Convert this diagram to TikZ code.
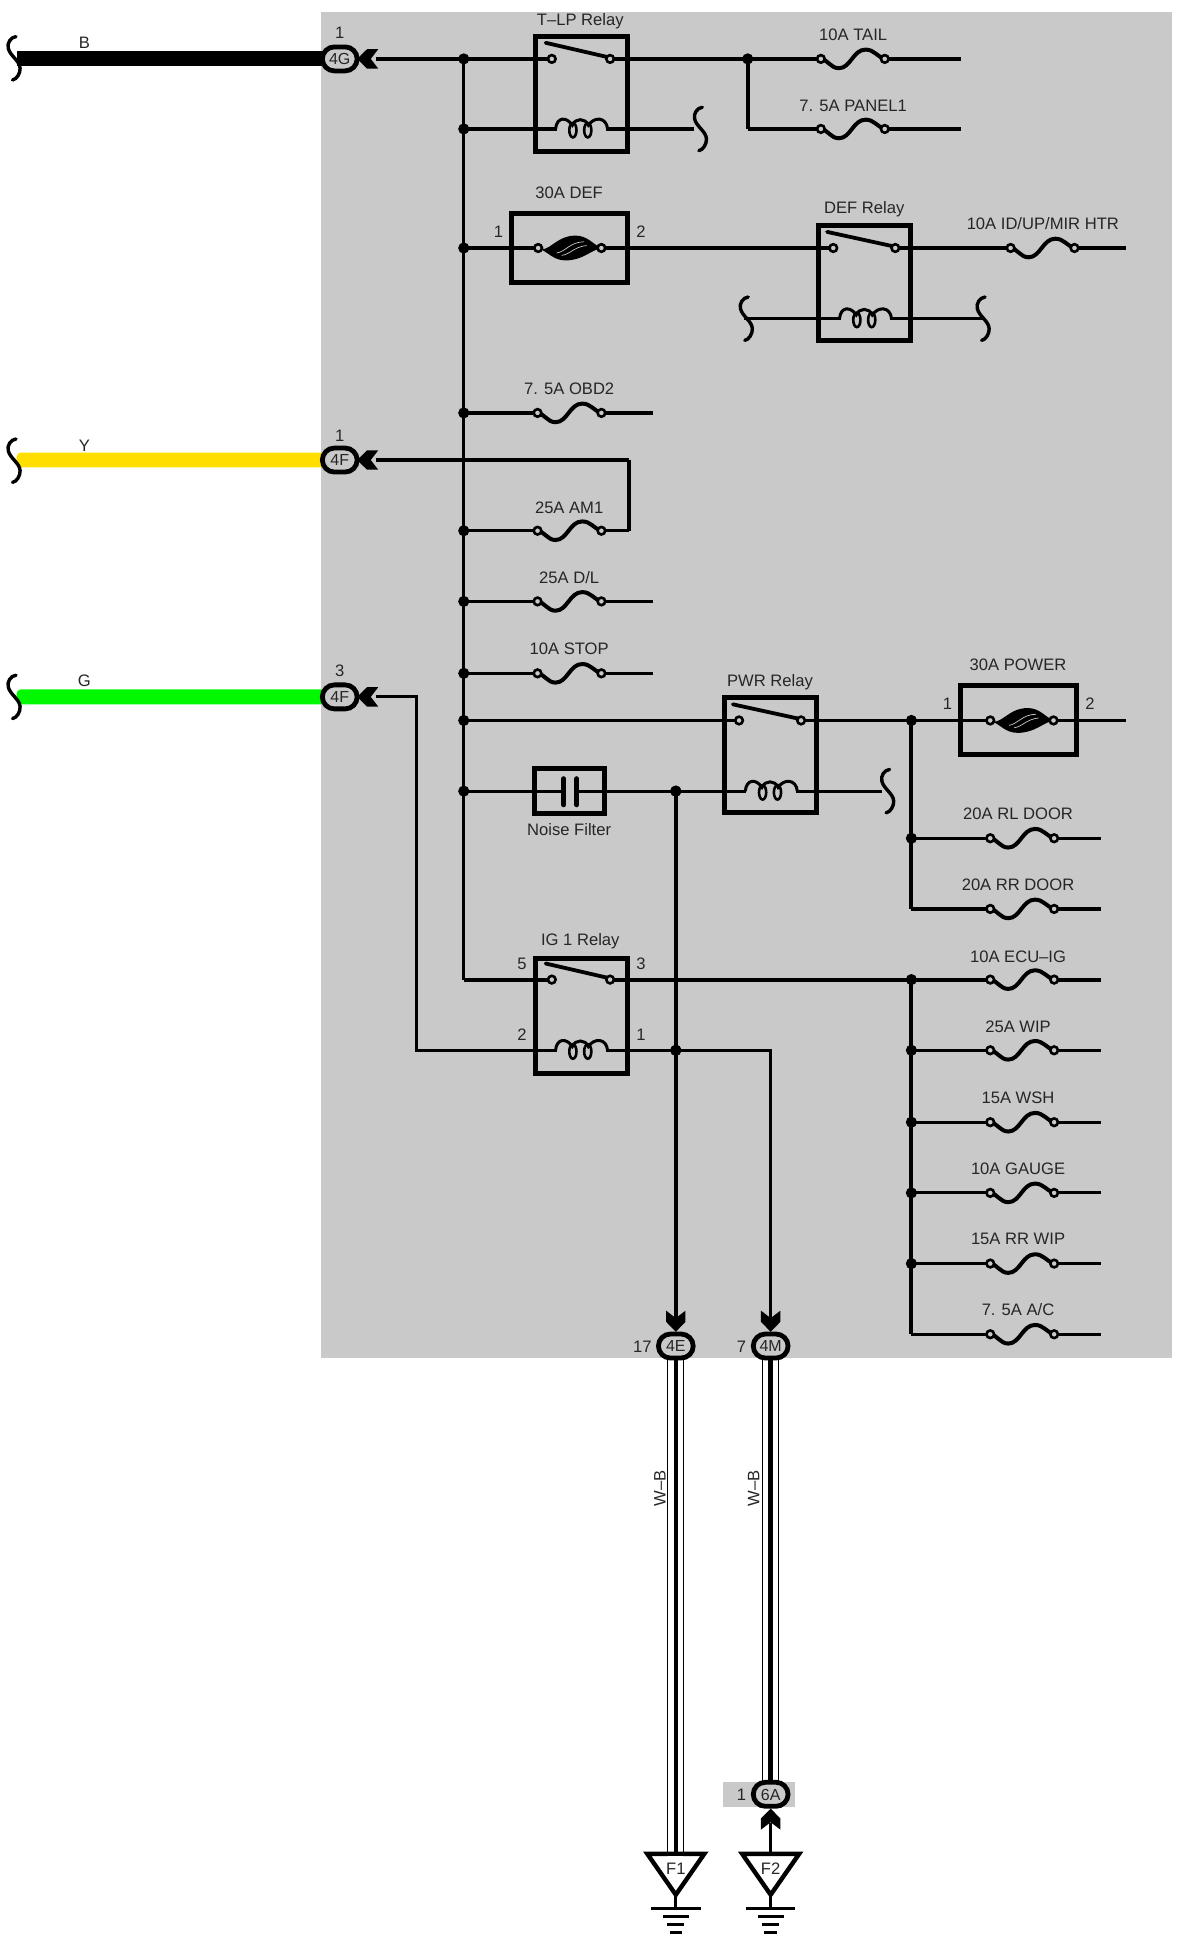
\documentclass[tikz,border=0pt]{standalone}
\usepackage{fontspec}
\setmainfont{Liberation Sans}
\definecolor{panel}{HTML}{C9C9C9}
\definecolor{wireY}{HTML}{FFDE00}
\definecolor{wireG}{HTML}{00F800}
\tikzset{
  wire/.style={line width=1.6pt,black},
  wirebold/.style={line width=2pt,black},
  lab/.style={font=\fontsize{8.3}{10}\selectfont,text=black!85,inner sep=0pt,text height=6pt,text depth=0pt},
  pill/.style={draw=black,line width=2.4pt,fill=panel,rounded corners=6pt,minimum width=17.4pt,minimum height=12pt,inner sep=0pt,font=\fontsize{8}{10}\selectfont,text=black!85,text height=5.8pt,text depth=0pt},
  relaybox/.style={draw=black,line width=2.5pt,minimum width=46pt,minimum height=57.5pt,inner sep=0pt},
  fusebox/.style={draw=black,line width=2.5pt,minimum width=58pt,minimum height=34.5pt,inner sep=0pt},
  contact/.style={draw=black,line width=1.3pt,fill=panel},
  junction/.style={circle,fill=black,inner sep=0pt,minimum size=5.6pt},
  squig/.style={line width=1.7pt,black,line cap=round},
  gnd/.style={draw=black,line width=2.2pt,fill=white,line join=miter},
}
\newcommand{\sq}[2]{\draw[squig,shift={(#1,#2)}] (1.4,-17.5) .. controls (-3,-17) and (-6,-12) .. (-4.8,-8) .. controls (-3.5,-2) and (4.5,2) .. (4.7,8) .. controls (5,12) and (2,17) .. (-1.4,17.5);}
\newcommand{\fuse}[2]{\begin{scope}[shift={(#1,#2)}]
  \fill[panel] (2,-3) rectangle (49,3);
  \draw[line width=2pt] (0,0) .. controls (6,1) and (8,7.5) .. (14.5,7.5) .. controls (24,7.5) and (26,-7.5) .. (36,-7.5) .. controls (43,-7.5) and (45,-2) .. (51.5,0);
  \filldraw[contact] (0,0) circle (1.9pt) (51.5,0) circle (1.9pt);
\end{scope}}
\newcommand{\bigfuse}[2]{\begin{scope}[shift={(#1,#2)}]
  \fill[panel] (2,-3) rectangle (49,3);
  \fill[black] (0,0) .. controls (8,5) and (14,-10) .. (30,-10) .. controls (40,-10) and (44,-3) .. (51,0) .. controls (42,2) and (36,10) .. (22,10) .. controls (12,10) and (8,3) .. (0,0) -- cycle;
  \draw[panel,line width=.35pt] (15,4) .. controls (22,3) and (26,-5) .. (37,-5) (19,6) .. controls (26,5) and (29,-1) .. (39,-2);
  \filldraw[contact] (0,0) circle (1.9pt) (51,0) circle (1.9pt);
\end{scope}}
\newcommand{\coil}[2]{\begin{scope}[shift={(#1,#2)}]
  \fill[panel] (1,-3) rectangle (41,3);
  \draw[line width=1.5pt] (0,0) .. controls (1,-10) and (9,-10) .. (13.5,-3) .. controls (16,-9) and (24,-9) .. (26.5,-3) .. controls (31,-10) and (41,-10) .. (42,0);
  \draw[line width=1.3pt] (14,1) ellipse (2.9 and 5.8);
  \draw[line width=1.3pt] (26,1) ellipse (2.9 and 5.8);
\end{scope}}
\newcommand{\switch}[3]{\fill[panel] (#1+2,#3-3) rectangle (#2-2,#3+3);
  \draw[line width=1.9pt,line cap=round] (#1-5,#3-13) -- (#2,#3-1);
  \filldraw[contact] (#1,#3) circle (1.9pt) (#2,#3) circle (1.9pt);}
\newcommand{\shell}[3]{\fill[black,shift={(#1,#2)},rotate=#3] (0,0) -- (-8,-7.8) -- (-17,-7.8) -- (-11,0) -- (-17,7.8) -- (-8,7.8) -- cycle;}
\newcommand{\ground}[2]{\begin{scope}[shift={(#1,#2)}]
  \draw[line width=1.6pt] (0,-4) -- (0,9.4);
  \draw[line width=1.6pt] (-20,9.4) -- (20,9.4);
  \draw[line width=1.6pt] (-10.5,16) -- (10.5,16);
  \draw[line width=1.6pt] (-7,22.5) -- (7,22.5);
  \draw[line width=1.6pt] (-5,29) -- (5,29);
\end{scope}}
\begin{document}
\begin{tikzpicture}[x=0.62pt,y=-0.62pt]
\useasboundingbox (0,0) rectangle (950,1567.74);
\fill[white] (0,0) rectangle (950,1567.74);
\fill[panel] (259,10) rectangle (945,1095);

% harness wires
\fill[black] (14,41) rectangle (262,53);
\fill[wireY,rounded corners=2pt] (13.5,365) rectangle (262,377);
\fill[wireG,rounded corners=2pt] (13.5,556) rectangle (262,568);
\sq{11.5}{47}\sq{11.5}{371.5}\sq{11.5}{562}
\node[pill] (c4G) at (274,47.5) {4G};
\node[pill] (c4Fa) at (274,371) {4F};
\node[pill] (c4Fb) at (274,562) {4F};
\node[lab] (lB) at (68,34) {B};
\node[lab] (lY) at (68,359) {Y};
\node[lab] (lG) at (68,549) {G};
\node[lab] (n1a) at (274,26) {1};
\node[lab] (n1b) at (274,351) {1};
\node[lab] (n3) at (274,541) {3};

% junctions
\foreach \n/\x/\y in {a/374/47.5,b/374/104,c/374/200,d/374/333,e/374/428,f/374/485,g/374/543,h/374/581,i/374/638,j/374/790,
  k/603/47.5,l/603/104,m/735/581,n/735/676,o/735/733,p/735/790,q/735/847,r/735/905,s/735/962,t/735/1019,u/735/1076,v/545/638,w/545/847}
  {\coordinate (\n) at (\x,\y);}
\foreach \n in {a,b,c,d,e,f,g,h,i,k,m,n,p,q,r,s,t,v,w} {\node[junction] at (\n) {};}

% bus lines
\draw[wire] (a) -- (j);
\draw[wirebold] (k) -- (l);
\draw[wirebold] (m) -- (o);
\draw[wirebold] (p) -- (u);

% top row
\coordinate (gA) at (303,47.5);
\draw[wire] (gA) -- (a) -- (k) -- (775,47.5);
\draw[wire] (b) -- (560,104);
\draw[wire] (l) -- (775,104);
\shell{288}{47.5}{180}
\sq{565}{104}
\node[lab] (tlp) at (468,16) {T–LP Relay};
\node[relaybox] (rT) at (469,75.5) {};
\switch{445}{492}{47.5}
\coil{448}{104}
\node[lab] (l10t) at (688,28) {10A TAIL};
\fuse{662}{47.5}
\node[lab] (l75p) at (688,85) {7. 5A PANEL1};
\fuse{662}{104}

% 30A DEF and DEF relay
\draw[wire] (c) -- (908,200);
\node[lab] (l30d) at (459,155) {30A DEF};
\node[fusebox] (bD) at (459,200) {};
\node[lab] (nd1) at (402,187) {1};
\node[lab] (nd2) at (517,187) {2};
\bigfuse{434}{200}
\node[lab] (ldr) at (697,167) {DEF Relay};
\node[relaybox] (rD) at (697.5,228.5) {};
\switch{672}{722}{200}
\draw[wire] (600,257) -- (793,257);
\sq{602}{257}\sq{793}{257}
\coil{677}{257}
\node[lab] (l10i) at (841,180) {10A ID/UP/MIR HTR};
\fuse{815}{200}

% OBD2, AM1, D/L, STOP
\draw[wire] (d) -- (527,333);
\node[lab] (lob) at (459,313) {7. 5A OBD2};
\fuse{433.5}{333}
\coordinate (gY) at (507,371);\coordinate (gY2) at (507,428);\coordinate (gY0) at (303,371);
\draw[wire] (gY0) -- (gY);
\draw[wirebold] (gY) -- (gY2);
\draw[wire] (gY2) -- (e);
\shell{288}{371}{180}
\node[lab] (lam) at (459,409) {25A AM1};
\fuse{433.5}{428}
\draw[wire] (f) -- (527,485);
\node[lab] (ldl) at (459,466) {25A D/L};
\fuse{433.5}{485}
\draw[wire] (g) -- (527,543);
\node[lab] (lst) at (459,523) {10A STOP};
\fuse{433.5}{543}

% PWR relay, POWER
\draw[wire] (h) -- (908,581);
\node[lab] (lpw) at (621,549) {PWR Relay};
\node[relaybox] (rP) at (621.5,609) {};
\switch{596}{646}{581}
\node[lab] (lp30) at (821,536) {30A POWER};
\node[fusebox] (bP) at (821,581) {};
\node[lab] (np1) at (764,567) {1};
\node[lab] (np2) at (879,567) {2};
\bigfuse{798.6}{581}
\draw[wire] (i) -- (711,638);
\sq{716}{638}
\coil{601}{638}
\node[draw=black,line width=2.5pt,fill=panel,minimum width=35pt,minimum height=22.5pt,inner sep=0pt] (nf) at (459.5,638) {};
\draw[wire] (431,638) -- (455,638) (465,638) -- (489,638);
\draw[line width=2.5pt,line cap=round] (454.5,628) -- (454.5,649) (465,628) -- (465,649);
\node[lab] (lnf) at (459,669) {Noise Filter};
\node[lab] (l20l) at (821,656) {20A RL DOOR};
\draw[wire] (n) -- (888,676); \fuse{798.6}{676}
\node[lab] (l20r) at (821,713) {20A RR DOOR};
\draw[wire] (o) -- (888,733); \fuse{798.6}{733}

% IG 1 relay
\draw[line width=1.9pt] (j) -- (888,790);
\node[lab] (lig) at (468,758) {IG 1 Relay};
\node[relaybox] (rI) at (469,819) {};
\node[lab] (n5) at (421,777) {5};
\node[lab] (n3b) at (517,777) {3};
\node[lab] (n2) at (421,834) {2};
\node[lab] (n1c) at (517,834) {1};
\switch{445}{492}{790}
\coordinate (gG0) at (303,562);\coordinate (gG1) at (336,562);\coordinate (gG2) at (336,847);\coordinate (gG3) at (621.5,847);\coordinate (gG4) at (621.5,1064);
\draw[wire] (gG0) -- (gG1) -- (gG2) -- (gG3) -- (gG4);
\shell{288}{562}{180}
\coil{448}{847}
\draw[wirebold] (v) -- (545,1064);
\shell{545}{1074}{-90}
\shell{621.5}{1074}{-90}
\node[junction] at (v) {}; \node[junction] at (w) {};

% lower fuse ladder
\node[lab] (lecu) at (821,771) {10A ECU–IG}; \fuse{798.6}{790}
\node[lab] (lwip) at (821,828) {25A WIP}; \draw[wire] (q) -- (888,847); \fuse{798.6}{847}
\node[lab] (lwsh) at (821,885) {15A WSH}; \draw[wire] (r) -- (888,905); \fuse{798.6}{905}
\node[lab] (lgau) at (821,942) {10A GAUGE}; \draw[wire] (s) -- (888,962); \fuse{798.6}{962}
\node[lab] (lrr) at (821,999) {15A RR WIP}; \draw[wire] (t) -- (888,1019); \fuse{798.6}{1019}
\node[lab] (lac) at (821,1056) {7. 5A A/C}; \draw[wire] (u) -- (888,1076); \fuse{798.6}{1076}

% lower harness
\fill[white] (538.5,1095) rectangle (552,1497);
\draw[black,line width=.5pt] (538.5,1095) -- (538.5,1497) (551.5,1095) -- (551.5,1497);
\draw[black,line width=2.2pt] (545,1095) -- (545,1497);
\fill[white] (615,1095) rectangle (628,1440);
\draw[black,line width=.5pt] (615,1095) -- (615,1440) (628,1095) -- (628,1440);
\draw[black,line width=2.4pt] (621.5,1095) -- (621.5,1440);
\node[pill] (c4E) at (545,1085.5) {4E};
\node[pill] (c4M) at (621.5,1085.5) {4M};
\node[lab] (n17) at (518,1085.5) {17};
\node[lab] (n7) at (598,1085.5) {7};
\node[lab,rotate=90] (wb1) at (532,1200) {W–B};
\node[lab,rotate=90] (wb2) at (607.5,1200) {W–B};

\fill[panel] (583,1437) rectangle (641,1457.5);
\fill[white] (615,1433) rectangle (628,1437);
\draw[black,line width=.5pt] (615,1433) -- (615,1438) (628,1433) -- (628,1438);
\draw[black,line width=2.4pt] (621.5,1433) -- (621.5,1440);
\node[pill] (c6A) at (621.5,1447) {6A};
\node[lab] (n1d) at (598,1447) {1};
\shell{621.5}{1458.5}{90}
\coordinate (topF2) at (621.5,1495);
\draw[wire] (621.5,1470) -- (topF2);

% grounds
\ground{545}{1529.6}
\ground{621.5}{1529.6}
\draw[gnd] (522,1495) -- (568,1495) -- (545,1528) -- cycle;
\draw[gnd] (598.5,1495) -- (644.5,1495) -- (621.5,1528) -- cycle;
\fill[white] (539,1497) rectangle (551,1499);
\node[lab] (lf1) at (545,1506.5) {F1};
\node[lab] (lf2) at (621.5,1506.5) {F2};
\end{tikzpicture}
\end{document}
